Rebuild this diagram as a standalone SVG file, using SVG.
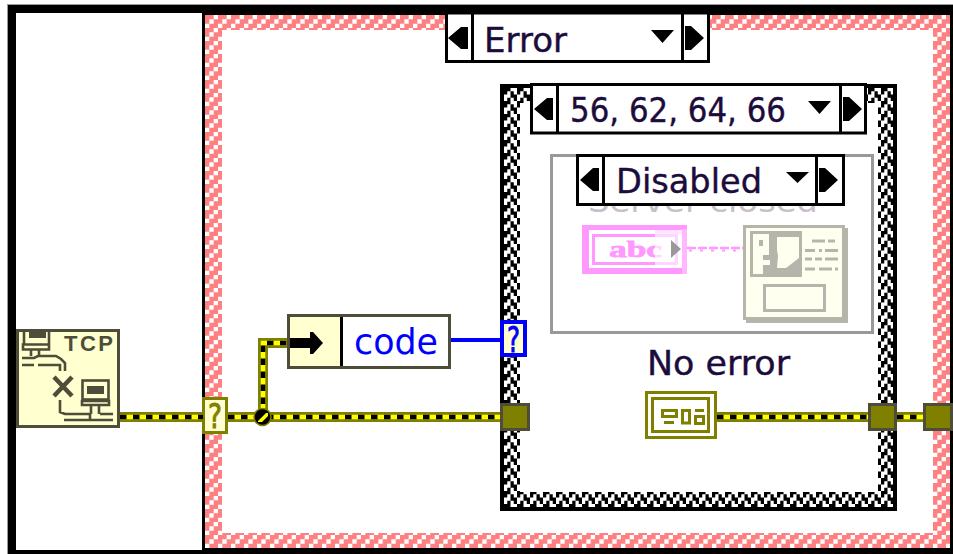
<svg xmlns="http://www.w3.org/2000/svg" width="953" height="554" viewBox="0 0 953 554">
<defs>
<pattern id="hatch" x="205" y="15" width="13" height="13" patternUnits="userSpaceOnUse"><rect width="13" height="13" fill="#ff8080"/><path d="M0 8.660h4.340V13H0zM4.340 4.330h4.330v4.330H4.340zM8.670 0H13v4.330H8.670z" fill="#fff"/></pattern>
<pattern id="check" x="504" y="88" width="13" height="13" patternUnits="userSpaceOnUse"><rect width="13" height="13" fill="#fff"/><path d="M0 0h6.500v3.250H0zM0 3.250h3.250v3.250H0zM6.500 3.250h3.250v3.250H6.500zM6.500 6.500H13v3.250H6.500zM3.250 9.750h3.250V13H3.250zM9.750 9.750H13V13H9.750z" fill="#000"/></pattern>
</defs>
<style>
text{font-family:"DejaVu Sans","Liberation Sans",sans-serif}
.sel{fill:#fff;stroke:#000;stroke-width:3}
.div{fill:none;stroke:#000;stroke-width:3}
.lab{fill:#1c0c3c;stroke:#1c0c3c;stroke-width:.4;font-size:34px}
.ol{fill:none;stroke:#808000;stroke-width:10}
.yd{fill:none;stroke:#ffff00;stroke-width:4.600}
.bd{fill:none;stroke:#000;stroke-width:4.600;stroke-dasharray:6.500 6.500}
.nd{stroke:#4d4d3a;stroke-width:3}
.ln{fill:none;stroke:#4d4d3a;stroke-width:2.600}
.gr{stroke:#b5b5ab;stroke-width:3}
.grl{fill:none;stroke:#b5b5ab;stroke-width:3}
.oi{fill:none;stroke:#808000;stroke-width:3}
</style>
<rect width="953" height="554" fill="#fff"/>
<g id="outer-frame">
<rect x="7" y="4" width="946" height="550" fill="#000"/>
<rect x="7" y="4" width="946" height="1" fill="#999"/>
<rect x="7" y="4" width="1" height="550" fill="#999"/>
<rect x="16" y="13" width="186" height="537" fill="#fff"/>
<rect x="205" y="15" width="745" height="533" fill="url(#hatch)"/>
<rect x="222" y="30" width="711" height="503" fill="#fff"/>
</g>
<g id="sel-error">
<rect class="sel" x="446.500" y="13" width="262" height="48.500"/>
<path class="div" d="M472.500 13v49M682.500 13v49"/>
<path d="M448 38l13-11h7v22h-7zM651 30h23l-11.500 13zM685 26h6l13 12-13 12h-6z" fill="#000"/>
<text class="lab" x="484" y="52" textLength="83" lengthAdjust="spacingAndGlyphs">Error</text>
</g>
<g id="inner-case">
<rect x="500" y="84" width="397" height="427" fill="#000"/>
<rect x="504" y="88" width="389" height="419" fill="url(#check)"/>
<rect x="520" y="103" width="358" height="389" fill="#fff"/>
</g>
<g id="sel-code">
<rect class="sel" x="531.500" y="84.500" width="334" height="48.500"/>
<path class="div" d="M557.500 85v47M840.500 85v47"/>
<path d="M534 109l13-11h6v22h-6zM808 101h23l-11.500 13zM843 97h6l13 12-13 12h-6z" fill="#000"/>
<text class="lab" x="570" y="122" textLength="216" lengthAdjust="spacingAndGlyphs">56, 62, 64, 66</text>
</g>
<g id="disabled-frame">
<rect x="551.500" y="155.500" width="321" height="177" fill="#fff" stroke="#999" stroke-width="3"/>
<text x="588" y="212" font-size="30" fill="#c8c0c8" textLength="230" lengthAdjust="spacingAndGlyphs">Server closed</text>
</g>
<g id="sel-disabled">
<rect class="sel" x="577.500" y="155.500" width="266" height="49"/>
<path class="div" d="M603.500 155v49M816.500 155v49"/>
<path d="M580 180l13-12h6v23h-6zM786 172h23l-11.500 11zM819 168h6l13 12-13 12h-6z" fill="#000"/>
<text class="lab" x="616" y="193" textLength="146" lengthAdjust="spacingAndGlyphs">Disabled</text>
</g>
<g id="string-const">
<rect x="582" y="225" width="105" height="49" fill="#ff99ff"/>
<rect x="589" y="230" width="93" height="38" fill="#fff"/>
<rect x="593.500" y="235.500" width="83" height="28" fill="#fff" stroke="#ff99ff" stroke-width="3"/>
<text x="609" y="257" font-size="24" font-weight="700" fill="#ff99ff" stroke="#ff99ff" stroke-width=".8" style="font-family:'Liberation Serif',serif" textLength="53" lengthAdjust="spacingAndGlyphs">abc</text>
<rect x="655" y="234" width="27" height="34" fill="#fff" fill-opacity=".6"/>
<rect x="682" y="229" width="5" height="45" fill="#ffb8ff"/>
<rect x="655" y="230" width="27" height="4" fill="#ffe5ff"/>
<path d="M671 240l10 9-10 9z" fill="#999"/>
</g>
<g id="dialog-vi">
<rect x="746" y="228" width="102" height="95" fill="#b5b5ab"/>
<rect x="744.500" y="226.500" width="99" height="92" fill="#fffff0" class="gr"/>
<rect x="750" y="231" width="52" height="46" fill="#b5b5ab"/>
<path d="M753 234h16v21h-6v5h7v5h-7v9h-10zM777 237h22v21l-13 10h-9l1-12-1-6z" fill="#fffff0"/>
<rect x="759" y="240" width="4" height="6" fill="#b5b5ab"/>
<path class="grl" d="M812 241h13M828 241h7M805 250.500h10M819 250.500h3M825 250.500h13M805 259h7M815 259h7M825 259h13M805 269h10M819 269h13M835 269h3"/>
<rect x="764.500" y="285.500" width="60" height="25" fill="#fffff0" class="gr"/>
</g>
<g id="tcp-node">
<rect x="17.500" y="330.500" width="101" height="96" fill="#ffffd0" class="nd"/>
<text x="64" y="351" font-size="22" font-weight="700" fill="#4d4d3a" style="font-family:'Liberation Sans',sans-serif" textLength="49">TCP</text>
<path class="ln" d="M24 332v12M49 332v12M23 344.500h26v5h-26zM31 350v6M39 350v6M22 358h12l4 -2h18l5 3 4 4v8M22 365h12M38 365h22v6"/>
<path d="M29 331h17v7h-17z" fill="#4d4d3a"/>
<path d="M54 377l18 19M72 377L54 396" fill="none" stroke="#4d4d3a" stroke-width="4.500"/>
<rect x="82.500" y="380.500" width="26" height="19" class="ln"/>
<rect x="87" y="386" width="17" height="8" fill="#4d4d3a"/>
<path class="ln" d="M82 401h27v4h-27zM91 406v8M99 406v8M60 400v12l5 2h25v5M64 420h49M100 414h13"/>
</g>
<g id="err-terminal">
<rect x="203.500" y="398.500" width="23" height="34" fill="#ffffd0" stroke="#808000" stroke-width="3"/>
<text x="208" y="428" font-size="33" fill="#808000" stroke="#808000" stroke-width=".9" textLength="14" lengthAdjust="spacingAndGlyphs">?</text>
</g>
<g id="connectors">
<path class="ol" d="M120 417H203M228 417H500M263 417V343H288M717 417H868M897 417H923"/>
<path class="yd" d="M120 417H203M228 417H500M263 417V343H288M717 417H868M897 417H923"/>
<path class="bd" d="M120 417H203M228 417H500M263 417V343H288M717 417H868M897 417H923"/>
<path d="M451 340H500" fill="none" stroke="#0000ff" stroke-width="4"/>
<path d="M687 248H743" fill="none" stroke="#ff99ff" stroke-width="2.500" stroke-dasharray="9 2"/>
<path d="M689 250.500H743" fill="none" stroke="#ff99ff" stroke-width="2" stroke-dasharray="3 8"/>
</g>
<g id="junction">
<circle cx="262.500" cy="417" r="8.500" fill="#000" stroke="#808000" stroke-width="1.500"/>
<path d="M258 421l8-8h2v3l-6 6h-4z" fill="#ffff00"/>
</g>
<g id="unbundle-node">
<rect x="288.500" y="315.500" width="161" height="52" fill="#fff" class="nd"/>
<rect x="290" y="317" width="50" height="49" fill="#ffffd0"/>
<path d="M341.500 317v49" stroke="#000" stroke-width="3"/>
<path d="M290 338h20v-6h3l10 11-10 11h-3v-6h-20z" fill="#000"/>
<text x="354" y="354" font-size="35" fill="#0000ff" textLength="84" lengthAdjust="spacingAndGlyphs">code</text>
</g>
<g id="selector-terminal">
<rect x="502" y="322" width="23" height="33" fill="#ffffd0" stroke="#0000ff" stroke-width="4"/>
<text x="507" y="352" font-size="36" fill="#0000ff" stroke="#0000ff" stroke-width=".9" textLength="13" lengthAdjust="spacingAndGlyphs">?</text>
</g>
<g id="tunnel-a"><rect x="501.500" y="404.500" width="27" height="25" fill="#808000" class="nd"/></g>
<g id="tunnel-b"><rect x="869.500" y="404.500" width="26" height="25" fill="#808000" class="nd"/></g>
<g id="tunnel-c"><rect x="924.500" y="404.500" width="27" height="25" fill="#808000" class="nd"/></g>
<g id="no-error">
<text class="lab" x="647" y="375" textLength="143" lengthAdjust="spacingAndGlyphs">No error</text>
<rect x="646.500" y="392.500" width="69" height="45" fill="#fff" class="oi"/>
<rect x="652.500" y="398.500" width="56" height="33" class="oi"/>
<rect x="662.500" y="410.500" width="14" height="6" class="oi"/>
<path class="oi" d="M664 422.500h10M695 410.500h9"/>
<rect x="682.500" y="410.500" width="7" height="12.500" class="oi"/>
<rect x="695.500" y="416.500" width="8" height="7" class="oi"/>
</g>
</svg>
